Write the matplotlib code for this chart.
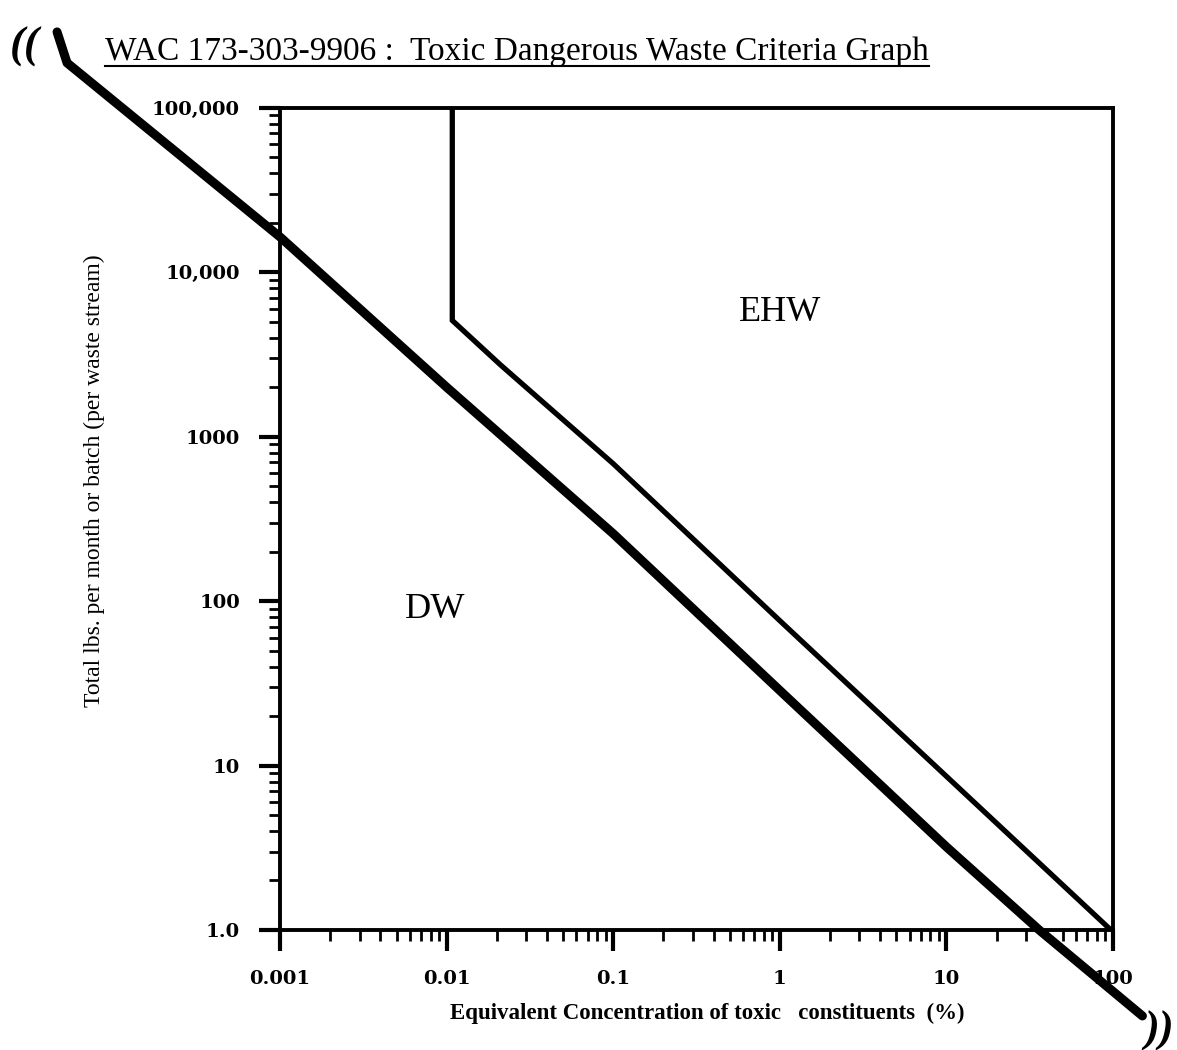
import matplotlib
matplotlib.use('Agg')
import matplotlib.pyplot as plt
from matplotlib.lines import Line2D
from matplotlib.ticker import LogLocator, NullFormatter

# Dangerous waste (DW) boundary (conc %, total lbs)
dwConc = [4.58e-5, 5.26e-5, 0.001, 0.01, 0.1, 1, 10, 36, 150]
dwLbs = [290000, 188000, 16400, 2000, 257, 28.6, 3.2, 1.0, 0.30]

# Extremely hazardous waste (EHW) boundary
ehwConc = [0.0108, 0.0108, 0.021, 0.1, 1, 97]
ehwLbs = [100000, 5100, 2740, 685, 76, 1.0]

xTicks = [0.001, 0.01, 0.1, 1, 10, 100]
xTickLabels = ['0.001', '0.01', '0.1', '1', '10', '100']
yTicks = [1, 10, 100, 1000, 10000, 100000]
yTickLabels = ['1.0', '10', '100', '1000', '10,000', '100,000']

regionNames = ['EHW', 'DW']
regionConc = [1.0, 0.0085]
regionLbs = [5700, 89]

title = 'WAC 173-303-9906 :  Toxic Dangerous Waste Criteria Graph'
xLabel = 'Equivalent Concentration of toxic   constituents  (%)'
yLabel = 'Total lbs. per month or batch (per waste stream)'

serif = 'Liberation Serif'

fig = plt.figure(figsize=(11.77, 10.5), dpi=100)
ax = fig.add_axes([0.238, 0.1143, 0.7077, 0.7829])
ax.set_xscale('log')
ax.set_yscale('log')
ax.set_xlim(0.001, 100)
ax.set_ylim(1, 100000)

ax.plot(dwConc, dwLbs, color='black', lw=6.5, solid_capstyle='round',
        solid_joinstyle='round', clip_on=False)
ax.plot(ehwConc, ehwLbs, color='black', lw=3.8, solid_joinstyle='miter')

for name, cx, cy in zip(regionNames, regionConc, regionLbs):
    ax.text(cx, cy, name, fontsize=26, family=serif, ha='center', va='center')

for side in ['left', 'right', 'top', 'bottom']:
    ax.spines[side].set_linewidth(2.8)

ax.set_xticks(xTicks, xTickLabels)
ax.set_yticks(yTicks, yTickLabels)
ax.xaxis.set_minor_locator(LogLocator(base=10, subs=range(2, 10), numticks=20))
ax.yaxis.set_minor_locator(LogLocator(base=10, subs=range(2, 10), numticks=20))
ax.xaxis.set_minor_formatter(NullFormatter())
ax.yaxis.set_minor_formatter(NullFormatter())
ax.tick_params(which='major', direction='out', length=15, width=3, pad=14)
ax.tick_params(which='minor', direction='out', length=8, width=2)
for lbl in ax.get_xticklabels() + ax.get_yticklabels():
    lbl.set_family('DejaVu Serif')
    lbl.set_fontweight('bold')
    lbl.set_fontsize(14)

ax.set_xlabel(xLabel, fontsize=16.5, family=serif, fontweight='bold')
ax.xaxis.set_label_coords(0.513, -0.089)
ax.set_ylabel(yLabel, fontsize=17, family=serif)
ax.yaxis.set_label_coords(-0.21, 0.547)

t = fig.text(0.439, 0.943, title, fontsize=24, family=serif, ha='center', va='baseline')

# hand-written brackets from the scan
fig.text(0.008, 0.945, '((', fontsize=32, fontweight='bold', style='italic', family=serif)
fig.text(0.972, 0.008, '))', fontsize=32, fontweight='bold', style='italic', family=serif)

# underline the title
fig.canvas.draw()
bb = t.get_window_extent(fig.canvas.get_renderer()).transformed(fig.transFigure.inverted())
fig.add_artist(Line2D([bb.x0, bb.x1], [0.937, 0.937], color='black', lw=1.5,
                      transform=fig.transFigure))

fig.savefig('out.png', dpi=100, facecolor='white')
